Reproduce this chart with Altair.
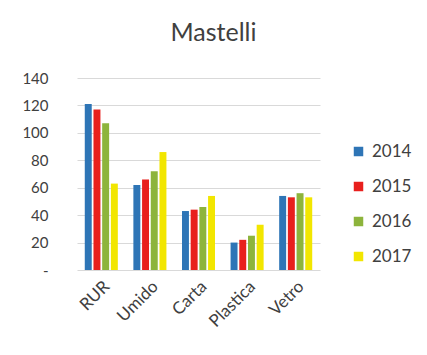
import altair as alt
import pandas as pd

categories = ["RUR", "Umido", "Carta", "Plastica", "Vetro"]
years = ["2014", "2015", "2016", "2017"]
v2014 = [121, 62, 43, 20, 54]
v2015 = [117, 66, 44, 22, 53]
v2016 = [107, 72, 46, 25, 56]
v2017 = [63, 86, 54, 33, 53]

rows = []
for series, yr in zip([v2014, v2015, v2016, v2017], years):
    for c, v in zip(categories, series):
        rows.append({"cat": c, "year": yr, "value": v})
df = pd.DataFrame(rows)

colors = ["#2E75B6", "#E8201D", "#8DB43C", "#F2E600"]
FONT = "Lato"

chart = alt.Chart(df).mark_bar().encode(
    x=alt.X("cat:N", sort=categories, title=None,
            scale=alt.Scale(paddingInner=0.32, paddingOuter=0.16),
            axis=alt.Axis(labelAngle=-45, labelFontSize=17, labelColor="#404040",
                          labelFont=FONT, ticks=False, domain=False, labelPadding=8,
                          grid=False)),
    xOffset=alt.XOffset("year:N", sort=years, scale=alt.Scale(paddingInner=0.2)),
    y=alt.Y("value:Q", title=None,
            scale=alt.Scale(domain=[0, 140]),
            axis=alt.Axis(values=[0, 20, 40, 60, 80, 100, 120, 140],
                          labelExpr="datum.value == 0 ? '-' : datum.label",
                          labelFontSize=15, labelColor="#404040", labelFont=FONT,
                          ticks=False, domain=False, labelPadding=29,
                          gridColor="#D9D9D9", gridWidth=1)),
    color=alt.Color("year:N", sort=years,
                    scale=alt.Scale(domain=years, range=colors),
                    legend=alt.Legend(title=None, orient="none", legendX=273, legendY=65,
                                      symbolType="square", symbolSize=90,
                                      symbolStrokeWidth=0,
                                      labelFontSize=17, labelFont=FONT,
                                      labelColor="#404040", rowPadding=17,
                                      labelOffset=5)),
).properties(
    width=243, height=192,
    background="white",
    title=alt.TitleParams("Mastelli", fontSize=25, font=FONT, fontWeight="normal",
                          color="#404040", offset=25, anchor="middle", dx=15),
    padding={"left": 77, "top": 78, "right": 107, "bottom": 85},
    autosize=alt.AutoSizeParams(type="none"),
).configure_view(stroke=None)

chart.save("out.html", embed_options={"renderer": "svg", "actions": False})
